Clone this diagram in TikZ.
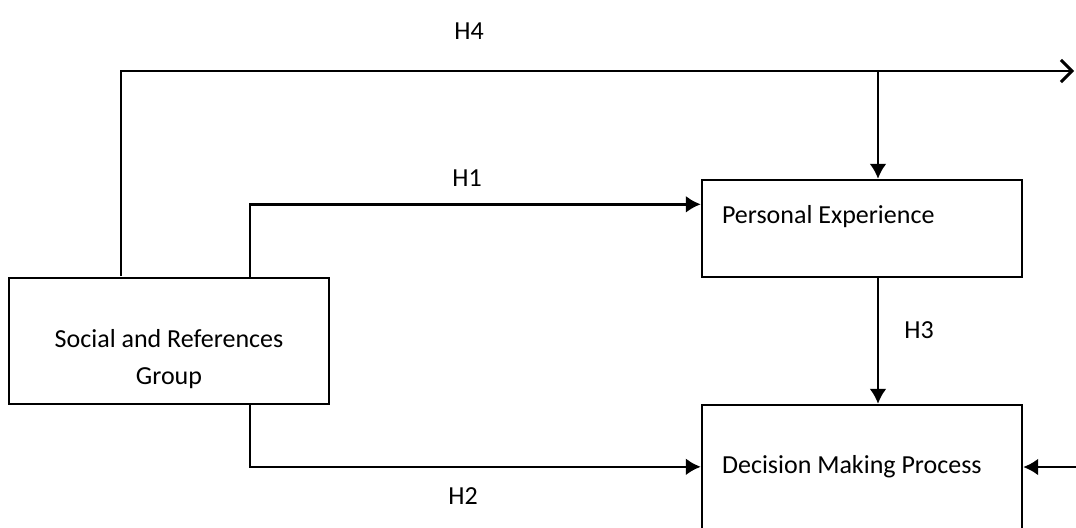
\documentclass[tikz,border=0pt]{standalone}
\usepackage{fontspec}
\setmainfont{Carlito}
\usetikzlibrary{arrows.meta}
\begin{document}
\begin{tikzpicture}[x=0.5pt,y=-0.5pt,
  box/.style={draw,line width=1.2pt,rectangle,inner sep=0pt},
  conn/.style={line width=1.3pt},
  tip/.style={-{Latex[length=7.5pt,width=8.5pt]}},
  txt/.style={font=\fontsize{13}{18.5}\selectfont},
  lbl/.style={font=\fontsize{13}{16}\selectfont}]
\useasboundingbox (0,0) rectangle (1076,527);
\clip (0,0) rectangle (1076,527);
% boxes
\node[box,minimum width=160pt,minimum height=63pt] (srg) at (169,341) {};
\node[txt,align=center] (srgt) at (169,359) {Social and References\\Group};
\node[box,minimum width=160pt,minimum height=48.5pt] (pe) at (862,228.5) {};
\node[txt,anchor=west] (pet) at (715,217) {Personal Experience};
\node[box,minimum width=160pt,minimum height=80pt] (dmp) at (862,485) {};
\node[txt,anchor=west] (dmpt) at (715,467) {Decision Making Process};
% coordinates
\coordinate (h4s) at (121,276);
\coordinate (h4e) at (1074,71);
\coordinate (j) at (878,71);
\coordinate (h1s) at (250,278);
\coordinate (h2s) at (250,404);
\coordinate (rin) at (1080,467);
% connectors
\draw[conn,-{Straight Barb[length=5.5pt,width=11pt,line width=1.5pt]}] (h4s) |- (h4e);
\draw[conn,tip] (j) -- (j |- pe.north);
\draw[conn,tip] (h1s) |- ([yshift=-12.75pt]pe.north west);
\draw[conn,tip] (pe.south -| j) -- (dmp.north -| j);
\draw[conn,tip] (h2s) |- ([yshift=-31.5pt]dmp.north west);
\draw[conn,tip] (rin) -- (rin -| dmp.east);
% labels
\node[lbl] (l4) at (469,31) {H4};
\node[lbl] (l1) at (467,178) {H1};
\node[lbl] (l3) at (919,330) {H3};
\node[lbl] (l2) at (463,496) {H2};
\end{tikzpicture}
\end{document}
